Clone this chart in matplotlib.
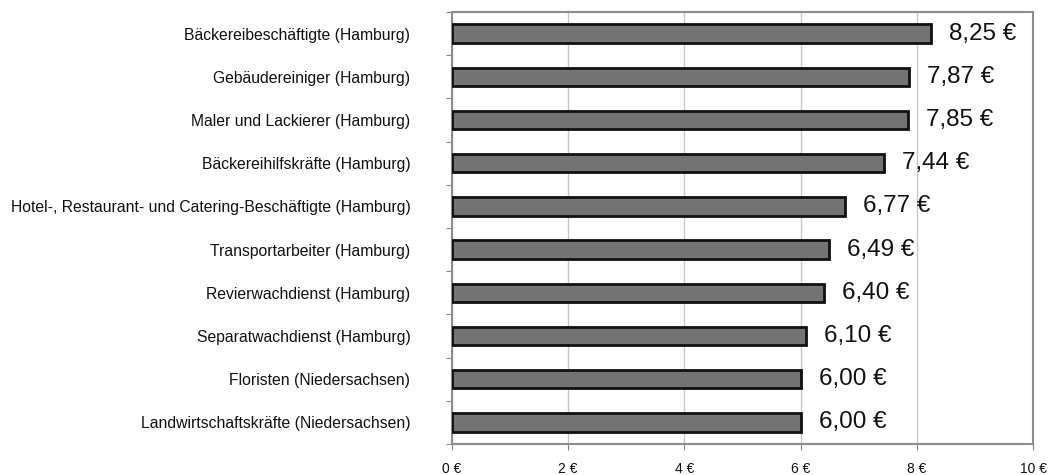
import numpy as np
import matplotlib
matplotlib.use("Agg")
import matplotlib.pyplot as plt
from matplotlib.ticker import FuncFormatter

plt.rcParams['font.family'] = ['Liberation Sans', 'DejaVu Sans']

# Stundenlöhne je Branche
branchen = [
    'Bäckereibeschäftigte (Hamburg)',
    'Gebäudereiniger (Hamburg)',
    'Maler und Lackierer (Hamburg)',
    'Bäckereihilfskräfte (Hamburg)',
    'Hotel-, Restaurant- und Catering-Beschäftigte (Hamburg)',
    'Transportarbeiter (Hamburg)',
    'Revierwachdienst (Hamburg)',
    'Separatwachdienst (Hamburg)',
    'Floristen (Niedersachsen)',
    'Landwirtschaftskräfte (Niedersachsen)',
]
loehne = [8.25, 7.87, 7.85, 7.44, 6.77, 6.49, 6.40, 6.10, 6.00, 6.00]
x_ticks = [0, 2, 4, 6, 8, 10]

fig = plt.figure(figsize=(10.59, 4.75), dpi=100)
ax = fig.add_axes([0.4268, 0.0653, 0.5487, 0.9094])

n = len(branchen)
y = np.arange(n)[::-1]  # oberste Branche oben

ax.barh(y, loehne, height=0.43, color='#737373', edgecolor='#111111', linewidth=2, zorder=3)

for yi, v in zip(y, loehne):
    ax.annotate(f'{v:.2f} €'.replace('.', ','), xy=(v, yi), xytext=(13, 0),
                textcoords='offset points', va='center', ha='left', fontsize=17.5, color='#111111')

ax.set_xlim(0, 10)
ax.set_ylim(-0.5, n - 0.5)
ax.set_xticks(x_ticks)
ax.xaxis.set_major_formatter(FuncFormatter(lambda v, p: f'{v:.0f} €'))
ax.tick_params(axis='x', labelsize=10, length=4, color='#888888', pad=9, colors='#111111')
ax.grid(axis='x', color='#c8c8c8', linewidth=1, zorder=0)

# Striche an den Grenzen, Beschriftung in der Mitte
ax.set_yticks(np.arange(n + 1) - 0.5)
ax.set_yticklabels([])
ax.set_yticks(y, minor=True)
ax.set_yticklabels(branchen, minor=True)
ax.tick_params(axis='y', which='major', length=4, color='#888888')
ax.tick_params(axis='y', which='minor', length=0, pad=30, labelsize=11.3, labelcolor='#111111')

for s in ax.spines.values():
    s.set_color('#8c8c8c')
    s.set_linewidth(1.5)

fig.savefig('out.png', dpi=100)
